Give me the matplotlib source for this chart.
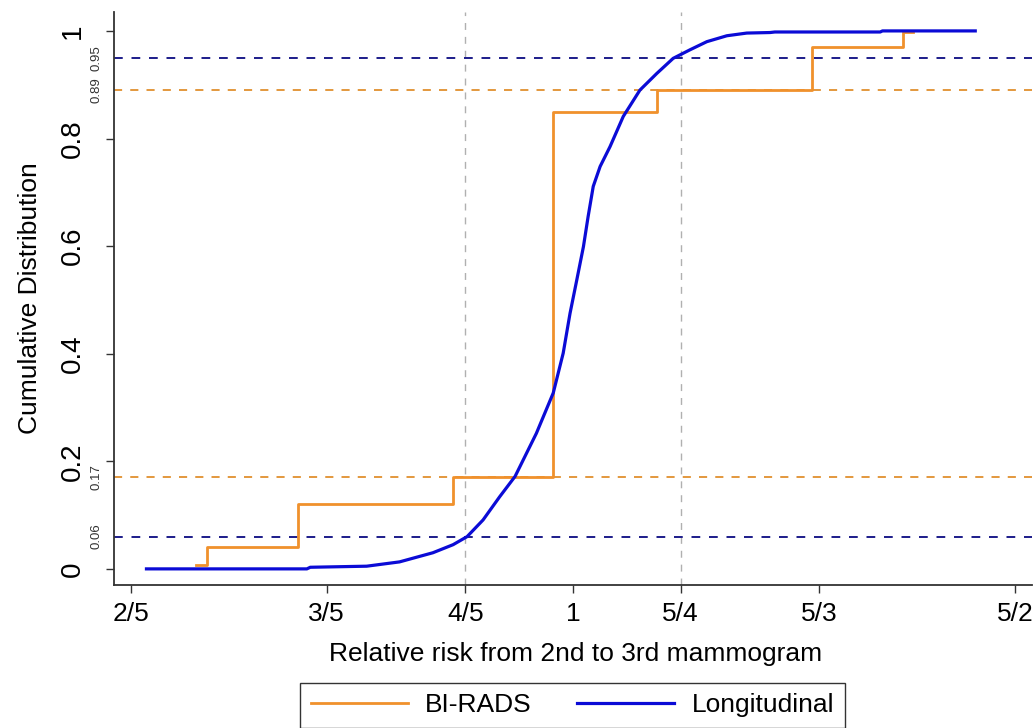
import numpy as np
import matplotlib
matplotlib.use('Agg')
import matplotlib.pyplot as plt
from matplotlib.ticker import FixedLocator, NullLocator

plt.rcParams['font.family'] = ['Liberation Sans', 'DejaVu Sans']

# BI-RADS empirical CDF (step, post)
birads_x = [0.458, 0.468, 0.565, 0.780, 0.959, 1.190, 1.642, 1.983, 2.025]
birads_y = [0.007, 0.04, 0.12, 0.17, 0.85, 0.89, 0.97, 0.998, 0.998]

# Longitudinal CDF
long_x = [0.413, 0.576, 0.58, 0.652, 0.698, 0.748, 0.780, 0.803, 0.830, 0.859,
          0.887, 0.927, 0.960, 0.980, 0.994, 1.008, 1.022, 1.032, 1.043, 1.058,
          1.080, 1.110, 1.149, 1.190, 1.231, 1.275, 1.320, 1.376, 1.434, 1.505,
          1.52, 1.891, 1.90, 2.303]
long_y = [0.0, 0.0, 0.003, 0.005, 0.013, 0.030, 0.045, 0.060, 0.091, 0.134,
          0.172, 0.252, 0.327, 0.401, 0.475, 0.537, 0.599, 0.655, 0.711, 0.748,
          0.785, 0.841, 0.890, 0.921, 0.949, 0.965, 0.980, 0.991, 0.996, 0.997,
          0.998, 0.998, 1.0, 1.0]

xticks = [2/5, 3/5, 4/5, 1, 5/4, 5/3, 5/2]
xtick_labels = ['2/5', '3/5', '4/5', '1', '5/4', '5/3', '5/2']
yticks = [0, 0.2, 0.4, 0.6, 0.8, 1]
ytick_labels = ['0', '0.2', '0.4', '0.6', '0.8', '1']
vlines = [4/5, 5/4]
ref_birads = [0.17, 0.89]
ref_long = [0.06, 0.95]

orange = '#f0912c'
blue = '#0b0bd6'
navy = '#1c1c8a'

fig = plt.figure(figsize=(10.35, 7.28), dpi=100)
ax = fig.add_axes([0.110, 0.1964, 0.887, 0.787])

ax.set_xscale('log')
ax.set_xlim(0.386, 2.59)
ax.set_ylim(-0.030, 1.035)

for v in vlines:
    ax.axvline(v, color='#b0b0b0', lw=1.0, ls=(0, (5, 5)), zorder=1)
for h in ref_birads:
    ax.axhline(h, color='#e0902e', lw=1.3, ls=(0, (4.5, 4.5)), zorder=1)
for h in ref_long:
    ax.axhline(h, color=navy, lw=1.4, ls=(0, (4.5, 4.5)), zorder=1)

ax.step(birads_x, birads_y, where='post', color=orange, lw=2, label='BI-RADS', zorder=3)
ax.plot(long_x, long_y, color=blue, lw=2.3, label='Longitudinal', zorder=4)

ax.xaxis.set_major_locator(FixedLocator(xticks))
ax.xaxis.set_minor_locator(NullLocator())
ax.set_xticklabels(xtick_labels, fontsize=19)

ax.set_yticks(yticks)
ax.set_yticklabels(ytick_labels, fontsize=20, rotation=90, va='center')
ax.tick_params(axis='both', direction='out', length=6, width=1, color='#333333')
ax.tick_params(axis='y', pad=14)
ax.tick_params(axis='x', pad=6)

# small labels for the reference lines
for h in ref_long + ref_birads:
    ax.text(-0.019, h, f'{h:.2f}', transform=ax.get_yaxis_transform(),
            rotation=90, fontsize=9.5, ha='center', va='center', color='#333333')

for s in ['top', 'right']:
    ax.spines[s].set_visible(False)
for s in ['left', 'bottom']:
    ax.spines[s].set_color('#333333')
    ax.spines[s].set_linewidth(1.3)

ax.set_xlabel('Relative risk from 2nd to 3rd mammogram', fontsize=19)
ax.set_ylabel('Cumulative Distribution', fontsize=19)
ax.xaxis.set_label_coords(0.503, -0.100)
ax.yaxis.set_label_coords(-0.078, 0.50)

fig.legend(loc='upper center', bbox_to_anchor=(0.553, 0.062), ncol=2,
           fontsize=19, handlelength=3.7, handletextpad=0.65, columnspacing=1.7,
           frameon=True, fancybox=False, edgecolor='#333333', borderpad=0.4,
           borderaxespad=0, framealpha=1)

fig.savefig('out.png', dpi=100)
